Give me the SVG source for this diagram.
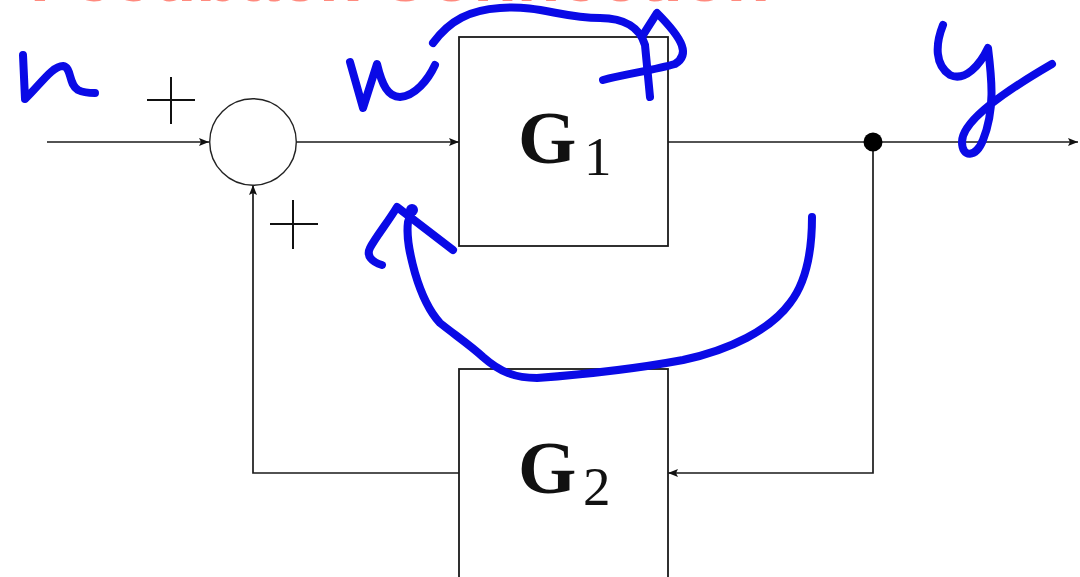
<svg xmlns="http://www.w3.org/2000/svg" width="1080" height="577" viewBox="0 0 1080 577">
  <style>
    .wire { fill: none; stroke: #1a1a1a; stroke-width: 1.7; }
    .box { fill: #fff; stroke: #1a1a1a; stroke-width: 1.8; }
    .sign { stroke: #111; stroke-width: 2; fill: none; }
    .ink { fill: none; stroke: #0a0ae6; stroke-width: 8; stroke-linecap: round; stroke-linejoin: round; }
    .big { font-family: "Liberation Serif", serif; font-weight: bold; font-size: 75px; fill: #111; }
    .sub { font-family: "Liberation Serif", serif; font-size: 55px; fill: #111; }
    .title { font-family: "Liberation Sans", sans-serif; font-weight: bold; font-size: 70px; fill: #ff8a7e; }
  </style>
  <defs>
    <marker id="arr" viewBox="0 0 10 8" refX="10" refY="4" markerWidth="10" markerHeight="8" markerUnits="userSpaceOnUse" orient="auto">
      <path d="M0,0 L10,4 L0,8 L2,4 Z" fill="#111"/>
    </marker>
  </defs>
  <rect width="1080" height="577" fill="#fff"/>

  <text class="title" x="30" y="1" textLength="740" lengthAdjust="spacingAndGlyphs">Feedback Connection</text>

  <g id="connectors">
    <line class="wire" x1="47" y1="142" x2="209" y2="142" marker-end="url(#arr)"/>
    <line class="wire" x1="296" y1="142" x2="459" y2="142" marker-end="url(#arr)"/>
    <line class="wire" x1="668" y1="142" x2="1078" y2="142" marker-end="url(#arr)"/>
    <polyline class="wire" points="873,142 873,473 668,473" marker-end="url(#arr)"/>
    <polyline class="wire" points="459,473 253,473 253,185" marker-end="url(#arr)"/>
    <circle cx="873" cy="142" r="9.5" fill="#000"/>
  </g>

  <g id="sum">
    <circle cx="253" cy="142" r="43.3" fill="#fff" stroke="#222" stroke-width="1.4"/>
    <path class="sign" d="M147,100 H195 M171,77 V124"/>
    <path class="sign" d="M270,224 H318 M293,200 V249"/>
  </g>

  <g id="G1">
    <rect class="box" x="459" y="37" width="209" height="209"/>
    <text class="big" x="518" y="163">G</text>
    <text class="sub" x="584" y="175">1</text>
  </g>

  <g id="G2">
    <rect class="box" x="459" y="369" width="209" height="220"/>
    <text class="big" x="518" y="493">G</text>
    <text class="sub" x="583" y="505">2</text>
  </g>

  <g id="annotations">
    <path class="ink" d="M23,55 L25,99 C40,85 52,66 63,66 C72,67 68,84 78,90 C84,93 90,93 95,93"/>
    <path class="ink" d="M350,62 L363,108 L377,64 C382,85 388,97 400,97 C415,96 428,80 435,65"/>
    <path class="ink" d="M433,43 C450,20 470,10 500,8 C540,5 562,18 600,18 C625,18 640,28 645,45 L650,97"/>
    <path class="ink" d="M603,80 C625,74 655,70 675,64 C690,55 684,40 657,13 L643,35"/>
    <path class="ink" d="M943,25 C935,45 935,65 950,75 C965,82 980,65 988,48 C992,80 995,110 983,140 C976,158 962,158 962,142 C962,125 990,100 1052,64"/>
    <path class="ink" d="M812,217 C812,245 808,280 790,303 C770,330 730,350 683,360 C640,368 590,374 537,378 C515,378 500,372 483,357 C470,345 455,335 440,323 C428,310 420,290 415,273 C410,255 406,238 408,222 L412,210"/>
    <path class="ink" d="M382,265 C372,262 366,256 370,248 C375,238 388,222 397,207 L453,250"/>
    <circle cx="412" cy="210" r="6" fill="#0a0ae6"/>
  </g>
</svg>
